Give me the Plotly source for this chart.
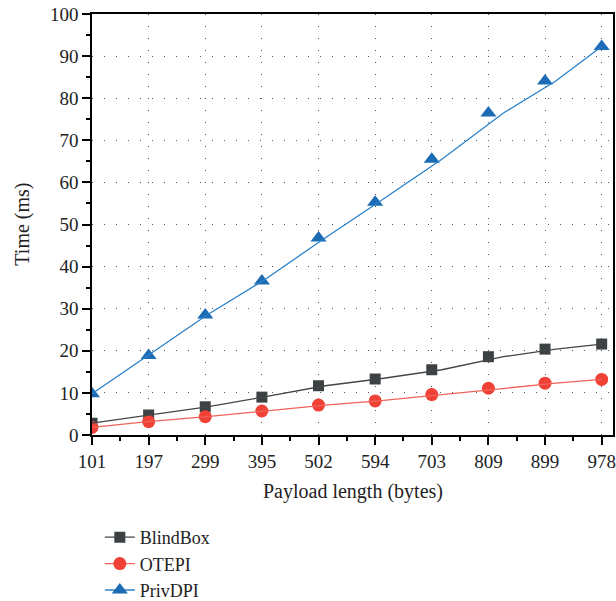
import plotly.graph_objects as go

payload = [101, 197, 299, 395, 502, 594, 703, 809, 899, 978]
tick_labels = [str(v) for v in payload]
blindbox = [2.8, 4.75, 6.7, 9.0, 11.7, 13.3, 15.5, 18.6, 20.4, 21.6]
otepi = [1.8, 3.2, 4.35, 5.7, 7.1, 8.1, 9.6, 11.1, 12.3, 13.2]
privdpi = [9.8, 18.9, 28.5, 36.6, 46.8, 55.3, 65.5, 76.5, 84.1, 92.3]

series = [
    ("BlindBox", blindbox, "#3c4244", "#454545", "square", 11),
    ("OTEPI", otepi, "#ef4136", "#f0635b", "circle", 13),
    ("PrivDPI", privdpi, "#1c6cb5", "#2b80c8", "triangle-up", 14),
]

idx = list(range(len(payload)))
xmax_idx = 9.2
span = payload[-1] - payload[0]
x2_range = [payload[0], payload[0] + span * xmax_idx / (len(payload) - 1)]

FONT = "Liberation Serif"
FS = 19
fig = go.Figure()
for name, vals, mcol, lcol, sym, sz in series:
    # line drawn against numeric payload values (secondary axis)
    fig.add_trace(go.Scatter(x=payload, y=vals, mode="lines", xaxis="x2",
                             line=dict(color=lcol, width=1.3), showlegend=False, hoverinfo="skip"))
    # markers at category positions
    fig.add_trace(go.Scatter(x=idx, y=vals, mode="markers",
                             marker=dict(symbol=sym, size=sz, color=mcol), showlegend=False))
    # legend entry
    fig.add_trace(go.Scatter(x=[None], y=[None], mode="lines+markers", name=name,
                             line=dict(color=lcol, width=1.3),
                             marker=dict(symbol=sym, size=sz, color=mcol)))

fig.update_layout(
    width=616, height=601,
    margin=dict(l=92, r=3, t=14, b=166, autoexpand=False),
    plot_bgcolor="white", paper_bgcolor="white",
    font=dict(family=FONT, size=FS, color="#222"),
    xaxis=dict(
        range=[0, xmax_idx], tickvals=idx, ticktext=tick_labels,
        showline=True, linecolor="black", linewidth=1.6, mirror=True,
        ticks="outside", ticklen=8, tickwidth=1.5, tickcolor="black",
        minor=dict(tick0=0.5, dtick=1, ticks="outside", ticklen=4, tickcolor="black", showgrid=False),
        showgrid=True, gridcolor="#555", gridwidth=1, griddash="1px,11px",
        zeroline=False, automargin=False,
        tickfont=dict(size=FS),
    ),
    xaxis2=dict(range=x2_range, overlaying="x", visible=False),
    yaxis=dict(
        range=[0, 100], dtick=10,
        showline=True, linecolor="black", linewidth=1.6, mirror=True,
        ticks="outside", ticklen=8, tickwidth=1.5, tickcolor="black",
        minor=dict(dtick=5, ticks="outside", ticklen=4, tickcolor="black", showgrid=False),
        showgrid=True, gridcolor="#555", gridwidth=1, griddash="1px,11px",
        zeroline=False, automargin=False,
        tickfont=dict(size=FS),
    ),
    annotations=[
        dict(text="Payload length (bytes)", xref="paper", yref="paper", x=0.5, y=-0.135,
             xanchor="center", yanchor="middle", showarrow=False, font=dict(size=20)),
        dict(text="Time (ms)", xref="paper", yref="paper", x=-0.134, y=0.5, textangle=-90,
             xanchor="center", yanchor="middle", showarrow=False, font=dict(size=20)),
    ],
    legend=dict(x=0.015, y=-0.1995, xanchor="left", yanchor="top",
                font=dict(size=18), bgcolor="rgba(0,0,0,0)", tracegroupgap=0),
)

fig.write_html("out.html")
